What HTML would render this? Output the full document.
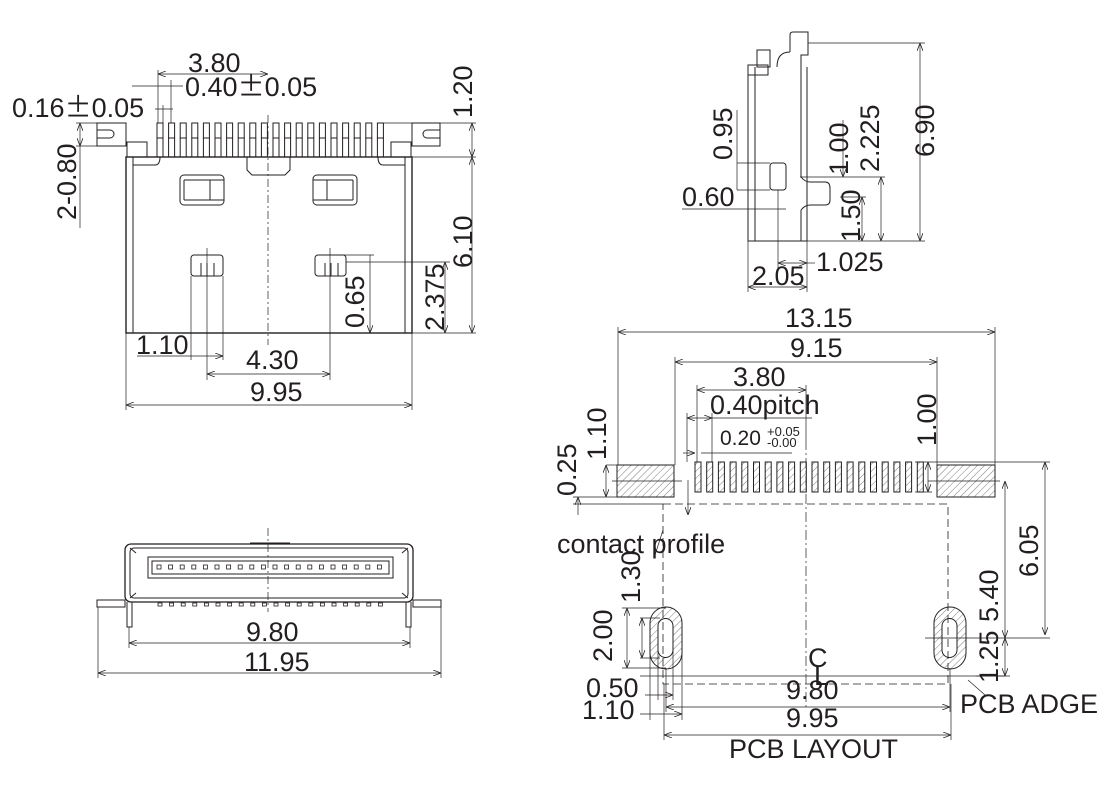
<!DOCTYPE html>
<html><head><meta charset="utf-8"><style>
html,body{margin:0;padding:0;background:#fff;}
svg{display:block;}
text{font-family:"Liberation Sans",sans-serif;fill:#231f20;}
.pm{font-family:"Noto Sans CJK SC",sans-serif;}
</style></head><body>
<svg width="1120" height="790" viewBox="0 0 1120 790" xmlns="http://www.w3.org/2000/svg">
<defs>
<pattern id="h" width="5" height="5" patternUnits="userSpaceOnUse" patternTransform="rotate(45)">
<line x1="0" y1="0" x2="0" y2="5" stroke="#444" stroke-width="0.7"/>
</pattern>
<marker id="a" markerWidth="8" markerHeight="6" refX="8" refY="3" orient="auto-start-reverse" markerUnits="userSpaceOnUse">
<path d="M0,0 L8,3 L0,6" fill="none" stroke="#222" stroke-width="0.8"/></marker>
</defs>
<g stroke="#231f20" fill="none" stroke-width="1">
<!-- ===== Top-left view ===== -->
<rect x="126" y="157" width="286" height="176" stroke-width="1.4"/>
<line x1="133" y1="157" x2="133" y2="333"/><line x1="405" y1="157" x2="405" y2="333"/>
<path d="M97,123 H126 V146 H97 Z M97,130 H110 A4,4 0 0 1 110,138 H97"/>
<path d="M440,123 H412 V146 H440 Z M440,130 H427 A4,4 0 0 0 427,138 H440"/>
<rect x="127" y="142" width="20" height="15"/><rect x="391" y="142" width="20" height="15"/>
<path d="M133,157 V165 H155 Q160,165 160,157"/><path d="M405,157 V165 H383 Q378,165 378,157"/>
<path d="M247,157 V170 L252,175 H285 L290,170 V157"/>
<g id="pins">
<rect x="157" y="123" width="6" height="15"/><rect x="157" y="138" width="6" height="19"/>
</g>
<use href="#pins" x="11.6"/><use href="#pins" x="23.2"/><use href="#pins" x="34.8"/><use href="#pins" x="46.4"/>
<use href="#pins" x="58"/><use href="#pins" x="69.6"/><use href="#pins" x="81.2"/><use href="#pins" x="92.8"/>
<use href="#pins" x="104.4"/><use href="#pins" x="116"/><use href="#pins" x="127.6"/><use href="#pins" x="139.2"/>
<use href="#pins" x="150.8"/><use href="#pins" x="162.4"/><use href="#pins" x="174"/><use href="#pins" x="185.6"/>
<use href="#pins" x="197.2"/><use href="#pins" x="208.8"/><use href="#pins" x="220.4"/>
<rect x="180" y="175" width="44" height="30" rx="4"/><line x1="184" y1="180" x2="184" y2="200"/><line x1="210" y1="180" x2="210" y2="200"/><line x1="184" y1="180" x2="224" y2="180"/><line x1="184" y1="200" x2="224" y2="200"/>
<rect x="313" y="175" width="44" height="30" rx="4"/><line x1="353" y1="180" x2="353" y2="200"/><line x1="327" y1="180" x2="327" y2="200"/><line x1="313" y1="180" x2="353" y2="180"/><line x1="313" y1="200" x2="353" y2="200"/>
<rect x="191" y="255" width="32" height="21" rx="3"/><line x1="201" y1="263" x2="201" y2="276"/><line x1="207" y1="263" x2="207" y2="276"/><line x1="214" y1="263" x2="214" y2="276"/>
<rect x="315" y="255" width="31" height="21" rx="3"/><line x1="325" y1="263" x2="325" y2="276"/><line x1="331" y1="263" x2="331" y2="276"/><line x1="338" y1="263" x2="338" y2="276"/>
<line x1="268" y1="115" x2="268" y2="345" stroke-dasharray="8,3,2,3" stroke-width="0.7"/>
<g stroke-width="0.7">
<line x1="158" y1="74" x2="268" y2="74" marker-start="url(#a)" marker-end="url(#a)"/>
<line x1="158" y1="70" x2="158" y2="123"/>
<line x1="132" y1="86" x2="183" y2="86"/><line x1="171" y1="80" x2="171" y2="123"/>
<line x1="155" y1="109" x2="173" y2="109"/><line x1="163" y1="105" x2="163" y2="123"/>
<line x1="80" y1="123" x2="80" y2="146" marker-start="url(#a)" marker-end="url(#a)"/>
<line x1="76" y1="123" x2="97" y2="123"/><line x1="76" y1="146" x2="97" y2="146"/><line x1="80" y1="146" x2="80" y2="228"/>
<line x1="378" y1="123" x2="476" y2="123"/><line x1="412" y1="157" x2="476" y2="157"/><line x1="412" y1="333" x2="476" y2="333"/>
<line x1="472" y1="123" x2="472" y2="157" marker-start="url(#a)" marker-end="url(#a)"/>
<line x1="472" y1="157" x2="472" y2="333" marker-start="url(#a)" marker-end="url(#a)"/>
<line x1="346" y1="262" x2="450" y2="262"/>
<line x1="445" y1="262" x2="445" y2="333" marker-start="url(#a)" marker-end="url(#a)"/>
<line x1="330" y1="255" x2="374" y2="255"/>
<line x1="370" y1="255" x2="370" y2="333" marker-end="url(#a)"/>
<line x1="207" y1="248" x2="207" y2="380"/><line x1="330" y1="248" x2="330" y2="380"/>
<line x1="191" y1="276" x2="191" y2="360"/><line x1="223" y1="276" x2="223" y2="360"/>
<line x1="137" y1="356" x2="223" y2="356" marker-end="url(#a)"/>
<line x1="207" y1="374" x2="330" y2="374" marker-start="url(#a)" marker-end="url(#a)"/>
<line x1="126" y1="333" x2="126" y2="410"/><line x1="412" y1="333" x2="412" y2="410"/>
<line x1="126" y1="405" x2="412" y2="405" marker-start="url(#a)" marker-end="url(#a)"/>
</g>
<!-- ===== Front view ===== -->
<rect x="125" y="544" width="288" height="58" rx="6" stroke-width="1.3"/>
<rect x="130" y="548" width="278" height="50" rx="4"/>
<rect x="148" y="557" width="245" height="21"/><rect x="152" y="561" width="237" height="13"/>
<line x1="130" y1="548" x2="136" y2="553"/><line x1="408" y1="548" x2="402" y2="553"/>
<line x1="130" y1="598" x2="136" y2="593"/><line x1="408" y1="598" x2="402" y2="593"/>
<g id="sq"><rect x="157" y="565" width="4" height="4" stroke-width="0.8"/><rect x="158" y="603" width="4" height="3" stroke-width="0.8"/></g>
<use href="#sq" x="11.6"/><use href="#sq" x="23.2"/><use href="#sq" x="34.8"/><use href="#sq" x="46.4"/>
<use href="#sq" x="58"/><use href="#sq" x="69.6"/><use href="#sq" x="81.2"/><use href="#sq" x="92.8"/>
<use href="#sq" x="104.4"/><use href="#sq" x="116"/><use href="#sq" x="127.6"/><use href="#sq" x="139.2"/>
<use href="#sq" x="150.8"/><use href="#sq" x="162.4"/><use href="#sq" x="174"/><use href="#sq" x="185.6"/>
<use href="#sq" x="197.2"/><use href="#sq" x="208.8"/><use href="#sq" x="220.4"/>
<path d="M97,600 H125 V607 H97 Z M413,600 H441 V607 H413 Z"/>
<path d="M127,602 V627 H132 V602 M406,602 V627 H411 V602"/>
<line x1="250" y1="543" x2="290" y2="543"/>
<line x1="268" y1="528" x2="268" y2="612" stroke-dasharray="8,3,2,3" stroke-width="0.7"/>
<g stroke-width="0.7">
<line x1="129" y1="627" x2="129" y2="648"/><line x1="410" y1="627" x2="410" y2="648"/>
<line x1="129" y1="643" x2="410" y2="643" marker-start="url(#a)" marker-end="url(#a)"/>
<line x1="98" y1="607" x2="98" y2="678"/><line x1="441" y1="607" x2="441" y2="678"/>
<line x1="98" y1="673" x2="441" y2="673" marker-start="url(#a)" marker-end="url(#a)"/>
</g>
<!-- ===== Side view ===== -->
<path d="M748,67 V241 H807 V67"/><line x1="755" y1="67" x2="755" y2="241"/><line x1="801" y1="67" x2="801" y2="177"/><line x1="801" y1="210" x2="801" y2="241"/>
<path d="M801,177 Q805,182 810,182 H825 Q830,182 830,188 V200 Q830,205 825,205 H810 Q805,205 801,210"/>
<path d="M777,67 Q777,52 790,52 M790,52 V35 Q790,32 793,32 H808 V55 H801 V67"/>
<rect x="757" y="50" width="13" height="17"/><rect x="748" y="65" width="20" height="10"/>
<rect x="770" y="163" width="16" height="27" rx="3"/>
<g stroke-width="0.7">
<line x1="808" y1="43" x2="925" y2="43"/><line x1="807" y1="241" x2="925" y2="241"/>
<line x1="920" y1="43" x2="920" y2="241" marker-start="url(#a)" marker-end="url(#a)"/>
<line x1="800" y1="177" x2="885" y2="177"/>
<line x1="881" y1="177" x2="881" y2="241" marker-start="url(#a)" marker-end="url(#a)"/>
<line x1="840" y1="197" x2="866" y2="197"/>
<line x1="862" y1="197" x2="862" y2="241" marker-start="url(#a)" marker-end="url(#a)"/>
<line x1="843" y1="120" x2="843" y2="177" marker-end="url(#a)"/>
<line x1="737" y1="163" x2="770" y2="163"/><line x1="737" y1="190" x2="770" y2="190"/>
<line x1="737" y1="110" x2="737" y2="190"/>
<line x1="682" y1="209" x2="786" y2="209"/>
<line x1="778" y1="190" x2="778" y2="268"/>
<line x1="778" y1="263" x2="807" y2="263" marker-start="url(#a)" marker-end="url(#a)"/><line x1="807" y1="263" x2="815" y2="263"/>
<line x1="748" y1="241" x2="748" y2="292"/><line x1="807" y1="241" x2="807" y2="292"/>
<line x1="748" y1="287" x2="807" y2="287" marker-start="url(#a)" marker-end="url(#a)"/>
</g>
<!-- ===== PCB layout ===== -->
<rect x="617" y="465" width="57" height="32" fill="url(#h)"/><rect x="937" y="465" width="58" height="32" fill="url(#h)"/>
<g id="pp"><rect x="695" y="462" width="6" height="30" fill="url(#h)"/></g>
<use href="#pp" x="11.7"/><use href="#pp" x="23.4"/><use href="#pp" x="35.1"/><use href="#pp" x="46.8"/>
<use href="#pp" x="58.5"/><use href="#pp" x="70.2"/><use href="#pp" x="81.9"/><use href="#pp" x="93.6"/>
<use href="#pp" x="105.3"/><use href="#pp" x="117"/><use href="#pp" x="128.7"/><use href="#pp" x="140.4"/>
<use href="#pp" x="152.1"/><use href="#pp" x="163.8"/><use href="#pp" x="175.5"/><use href="#pp" x="187.2"/>
<use href="#pp" x="198.9"/><use href="#pp" x="210.6"/><use href="#pp" x="222.3"/>
<path d="M663,504 H948 V684 H663 Z" stroke-dasharray="8,4" stroke-width="0.8"/>
<line x1="806" y1="440" x2="806" y2="710" stroke-dasharray="10,3,2,3" stroke-width="0.7"/>
<path d="M650,623 A16,16 0 0 1 682,623 V653 A16,16 0 0 1 650,653 Z M658,626 A7.5,7.5 0 0 1 673,626 V650 A7.5,7.5 0 0 1 658,650 Z" fill="url(#h)" fill-rule="evenodd"/>
<path d="M934,623 A16,16 0 0 1 966,623 V653 A16,16 0 0 1 934,653 Z M942,626 A7.5,7.5 0 0 1 957,626 V650 A7.5,7.5 0 0 1 942,650 Z" fill="url(#h)" fill-rule="evenodd"/>
<line x1="640" y1="676" x2="1005" y2="676" stroke-width="0.8"/>
<g stroke-width="0.7">
<line x1="618" y1="327" x2="618" y2="465"/><line x1="995" y1="327" x2="995" y2="465"/>
<line x1="618" y1="332" x2="995" y2="332" marker-start="url(#a)" marker-end="url(#a)"/>
<line x1="675" y1="357" x2="675" y2="465"/><line x1="937" y1="357" x2="937" y2="465"/>
<line x1="675" y1="362" x2="937" y2="362" marker-start="url(#a)" marker-end="url(#a)"/>
<line x1="697" y1="385" x2="697" y2="462"/><line x1="806" y1="385" x2="806" y2="440"/>
<line x1="697" y1="390" x2="806" y2="390" marker-start="url(#a)" marker-end="url(#a)"/>
<line x1="687" y1="418" x2="712" y2="418" marker-start="url(#a)" marker-end="url(#a)"/><line x1="712" y1="418" x2="812" y2="418"/>
<line x1="687" y1="413" x2="687" y2="462"/><line x1="712" y1="413" x2="712" y2="462"/>
<line x1="683" y1="453" x2="695" y2="453" marker-end="url(#a)"/><line x1="701" y1="453" x2="792" y2="453"/>
<line x1="606" y1="465" x2="617" y2="465"/><line x1="573" y1="497" x2="617" y2="497"/><line x1="573" y1="504" x2="663" y2="504"/>
<line x1="606" y1="465" x2="606" y2="497" marker-start="url(#a)" marker-end="url(#a)"/>
<line x1="578" y1="497" x2="578" y2="515" marker-start="url(#a)"/>
<line x1="688" y1="480" x2="688" y2="515" marker-end="url(#a)"/>
<line x1="612" y1="481" x2="682" y2="481"/><line x1="928" y1="481" x2="1000" y2="481"/>
<line x1="915" y1="462" x2="1050" y2="462"/><line x1="915" y1="492" x2="932" y2="492"/>
<line x1="928" y1="462" x2="928" y2="492" marker-start="url(#a)" marker-end="url(#a)"/>
<line x1="1045" y1="462" x2="1045" y2="635" marker-start="url(#a)" marker-end="url(#a)"/>
<line x1="1005" y1="481" x2="1005" y2="638" marker-start="url(#a)" marker-end="url(#a)"/>
<line x1="1005" y1="638" x2="1005" y2="676" marker-start="url(#a)" marker-end="url(#a)"/>
<line x1="925" y1="638" x2="1050" y2="638"/><line x1="976" y1="676" x2="1010" y2="676"/>
<line x1="622" y1="608" x2="666" y2="608"/><line x1="622" y1="668" x2="666" y2="668"/>
<line x1="627" y1="608" x2="627" y2="668" marker-start="url(#a)" marker-end="url(#a)"/>
<line x1="640" y1="618" x2="660" y2="618"/><line x1="640" y1="658" x2="660" y2="658"/>
<line x1="642" y1="618" x2="642" y2="658" marker-start="url(#a)" marker-end="url(#a)"/>
<line x1="650" y1="640" x2="650" y2="720"/><line x1="682" y1="640" x2="682" y2="720"/>
<line x1="658" y1="650" x2="658" y2="700"/><line x1="673" y1="650" x2="673" y2="700"/>
<line x1="645" y1="695" x2="673" y2="695" marker-end="url(#a)"/>
<line x1="640" y1="714" x2="682" y2="714" marker-end="url(#a)"/>
<line x1="666" y1="668" x2="666" y2="712"/><line x1="950" y1="668" x2="950" y2="712"/>
<line x1="666" y1="707" x2="950" y2="707" marker-start="url(#a)" marker-end="url(#a)"/>
<line x1="664" y1="684" x2="664" y2="740"/><line x1="951" y1="684" x2="951" y2="740"/>
<line x1="664" y1="735" x2="951" y2="735" marker-start="url(#a)" marker-end="url(#a)"/>
<line x1="663" y1="530" x2="655" y2="555"/>
<line x1="968" y1="680" x2="985" y2="695"/>
</g>
</g>
<!-- ===== Text ===== -->
<g font-size="27">
<text x="188" y="72">3.80</text>
<text x="185" y="96">0.40<tspan class="pm">±</tspan>0.05</text>
<text x="12" y="117">0.16<tspan class="pm">±</tspan>0.05</text>
<text transform="translate(472,118) rotate(-90)">1.20</text>
<text transform="translate(76,220) rotate(-90)">2-0.80</text>
<text transform="translate(472,268) rotate(-90)">6.10</text>
<text transform="translate(444,331) rotate(-90)">2.375</text>
<text transform="translate(364,328) rotate(-90)">0.65</text>
<text x="136" y="354">1.10</text>
<text x="246" y="369">4.30</text>
<text x="250" y="401">9.95</text>
<text x="246" y="641">9.80</text>
<text x="244" y="671">11.95</text>
<text transform="translate(732,160) rotate(-90)">0.95</text>
<text x="682" y="206">0.60</text>
<text transform="translate(848,175) rotate(-90)">1.00</text>
<text transform="translate(879,172) rotate(-90)">2.225</text>
<text transform="translate(934,157) rotate(-90)">6.90</text>
<text transform="translate(860,242) rotate(-90)">1.50</text>
<text x="816" y="271">1.025</text>
<text x="752" y="285">2.05</text>
<text x="785" y="327">13.15</text>
<text x="790" y="357">9.15</text>
<text x="733" y="386">3.80</text>
<text x="710" y="414">0.40pitch</text>
<text transform="translate(936,446) rotate(-90)">1.00</text>
<text transform="translate(576,496) rotate(-90)">0.25</text>
<text transform="translate(606,460) rotate(-90)">1.10</text>
<text x="557" y="553">contact profile</text>
<text transform="translate(640,603) rotate(-90)">1.30</text>
<text transform="translate(612,662) rotate(-90)">2.00</text>
<text transform="translate(1038,577) rotate(-90)">6.05</text>
<text transform="translate(998,622) rotate(-90)">5.40</text>
<text transform="translate(998,683) rotate(-90)">1.25</text>
<text x="808" y="667">C</text>
<text x="814" y="685">L</text>
<text x="786" y="699">9.80</text>
<text x="586" y="697">0.50</text>
<text x="582" y="719">1.10</text>
<text x="786" y="727">9.95</text>
<text x="960" y="713">PCB ADGE</text>
<text x="729" y="758">PCB LAYOUT</text>
</g>
<text x="720" y="445" font-size="21">0.20</text>
<text x="767" y="436" font-size="13">+0.05</text>
<text x="767" y="447" font-size="13">-0.00</text>
</svg>
</body></html>
